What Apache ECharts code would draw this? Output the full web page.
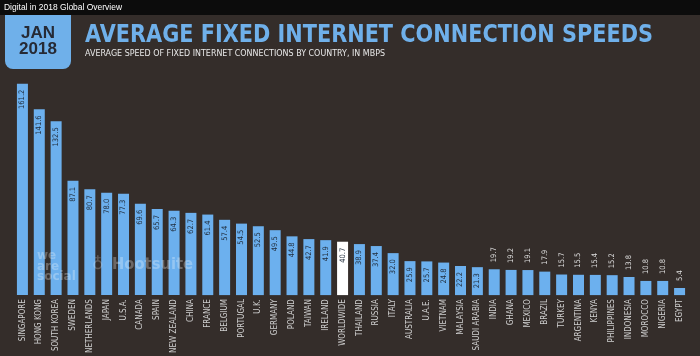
<!DOCTYPE html>
<html>
<head>
<meta charset="utf-8">
<script src="https://cdn.jsdelivr.net/npm/echarts@6/dist/echarts.min.js"></script>
<style>
html,body{margin:0;padding:0;background:#342d2a;}
#chart{width:700px;height:356px;}
</style>
</head>
<body>
<div id="chart"></div>
<script>
const countries = ["SINGAPORE","HONG KONG","SOUTH KOREA","SWEDEN","NETHERLANDS","JAPAN","U.S.A.","CANADA","SPAIN","NEW ZEALAND","CHINA","FRANCE","BELGIUM","PORTUGAL","U.K.","GERMANY","POLAND","TAIWAN","IRELAND","WORLDWIDE","THAILAND","RUSSIA","ITALY","AUSTRALIA","U.A.E.","VIETNAM","MALAYSIA","SAUDI ARABIA","INDIA","GHANA","MEXICO","BRAZIL","TURKEY","ARGENTINA","KENYA","PHILIPPINES","INDONESIA","MOROCCO","NIGERIA","EGYPT"];
const speeds = [161.2,141.6,132.5,87.1,80.7,78.0,77.3,69.6,65.7,64.3,62.7,61.4,57.4,54.5,52.5,49.5,44.8,42.7,41.9,40.7,38.9,37.4,32.0,25.9,25.7,24.8,22.2,21.3,19.7,19.2,19.1,17.9,15.7,15.5,15.4,15.2,13.8,10.8,10.8,5.4];
const highlight = "WORLDWIDE";
const insideThreshold = 21;

const headerText = 'Digital in 2018 Global Overview';
const titleText = 'AVERAGE FIXED INTERNET CONNECTION SPEEDS';
const subtitleText = 'AVERAGE SPEED OF FIXED INTERNET CONNECTIONS BY COUNTRY, IN MBPS';

const BLUE = '#6cb0ee';
const labelFont = '"Liberation Sans Narrow","DejaVu Sans Condensed",sans-serif';

// measure text to fit given widths
const mctx = document.createElement('canvas').getContext('2d');
function fitScale(text, font, targetW) {
  mctx.font = font;
  return targetW / mctx.measureText(text).width;
}
const headerFont = '9px "Liberation Sans", Arial, sans-serif';
const titleFont = 'bold 25px "DejaVu Sans", sans-serif';
const subFont = '8.5px "DejaVu Sans", sans-serif';
const hootFont = 'bold 16px "DejaVu Sans", sans-serif';

const data = speeds.map((v, i) => {
  const inside = v > insideThreshold;
  return {
    value: v,
    itemStyle: { color: countries[i] === highlight ? '#ffffff' : BLUE },
    label: inside ? {
      show: true, position: 'insideTop', rotate: 90, align: 'right', verticalAlign: 'middle',
      distance: 6, color: '#1f2b3a', fontSize: 7.5, fontFamily: labelFont,
      formatter: (p) => p.value.toFixed(1)
    } : {
      show: true, position: 'top', rotate: 90, align: 'left', verticalAlign: 'middle',
      distance: 7, color: '#dedede', fontSize: 7.5, fontFamily: labelFont,
      formatter: (p) => p.value.toFixed(1)
    }
  };
});

const chart = echarts.init(document.getElementById('chart'), null, { renderer: 'canvas' });
chart.setOption({
  backgroundColor: '#342d2a',
  animation: false,
  grid: { left: 14, right: 12, top: 59, bottom: 57, containLabel: false },
  xAxis: {
    type: 'category',
    data: countries,
    axisLine: { show: false },
    axisTick: { show: false },
    axisLabel: {
      interval: 0, rotate: 90, color: '#cfcfcf', fontSize: 8, margin: 4,
      fontFamily: labelFont
    }
  },
  yAxis: {
    type: 'value', min: 0, max: 180,
    show: false, splitLine: { show: false }
  },
  series: [{
    type: 'bar',
    data: data,
    barWidth: 11,
    label: { show: true }
  }],
  graphic: [
    { type: 'rect', x: 0, y: 0, shape: { width: 700, height: 15 }, style: { fill: '#0c0c0c' }, z: 10 },
    { type: 'text', x: 4, y: 7.5, scaleX: fitScale(headerText, headerFont, 118), style: { text: headerText, fill: '#ffffff', font: headerFont, verticalAlign: 'middle' }, z: 11 },
    { type: 'rect', x: 5, y: 5, shape: { width: 66, height: 64, r: 8 }, style: { fill: '#6fb0ea' }, z: 9 },
    { type: 'text', x: 38, y: 33, style: { text: 'JAN', fill: '#262a35', font: 'bold 17px "Liberation Sans", Arial, sans-serif', align: 'center', verticalAlign: 'middle' }, z: 11 },
    { type: 'text', x: 38, y: 49.5, style: { text: '2018', fill: '#262a35', font: 'bold 17px "Liberation Sans", Arial, sans-serif', align: 'center', verticalAlign: 'middle' }, z: 11 },
    { type: 'text', x: 85, y: 35.5, scaleX: fitScale(titleText, titleFont, 568), style: { text: titleText, fill: '#6fb0ea', font: titleFont, verticalAlign: 'middle' }, z: 11 },
    { type: 'text', x: 85, y: 54, scaleX: fitScale(subtitleText, subFont, 300), style: { text: subtitleText, fill: '#e8e8e8', font: subFont, verticalAlign: 'middle' }, z: 11 },
    { type: 'text', x: 37, y: 251, style: { text: 'we\nare\nsocial', fill: 'rgba(255,255,255,0.28)', font: 'bold 12px "DejaVu Sans", sans-serif', lineHeight: 10.5 }, z: 11 },
    { type: 'text', x: 112, y: 265, scaleX: fitScale('Hootsuite', hootFont, 81), style: { text: 'Hootsuite', fill: 'rgba(255,255,255,0.28)', font: hootFont, verticalAlign: 'middle' }, z: 11 },
    { type: 'text', x: 92, y: 265, style: { text: '♁', fill: 'rgba(255,255,255,0.22)', font: '16px "DejaVu Sans", sans-serif', verticalAlign: 'middle' }, z: 11 }
  ]
});
</script>
</body>
</html>
